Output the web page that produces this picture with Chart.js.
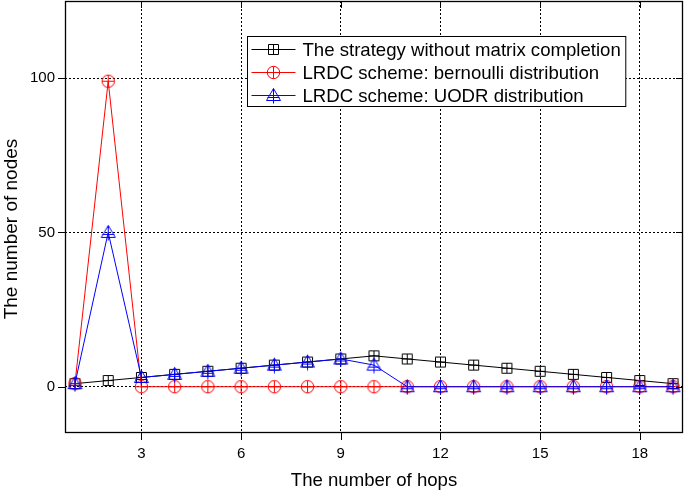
<!DOCTYPE html>
<html lang="en">
<head>
<meta charset="UTF-8">
<title>The number of nodes vs. the number of hops</title>
<script src="https://cdn.jsdelivr.net/npm/chart.js"></script>
<style>
    body {
        margin: 0;
        background: #fff;
    }

    #wrap {
        width: 685px;
        height: 493px;
    }
</style>
</head>
<body>
<div id="wrap"><canvas id="hopsChart"></canvas></div>
<script>
    const hops = [1, 2, 3, 4, 5, 6, 7, 8, 9, 10, 11, 12, 13, 14, 15, 16, 17, 18, 19];
    const withoutCompletion = [1, 2, 3, 4, 5, 6, 7, 8, 9, 10, 9, 8, 7, 6, 5, 4, 3, 2, 1];
    const bernoulli = [1, 99, 0, 0, 0, 0, 0, 0, 0, 0, 0, 0, 0, 0, 0, 0, 0, 0, 0];
    const uodr = [1, 50, 3, 4, 5, 6, 7, 8, 9, 7, 0, 0, 0, 0, 0, 0, 0, 0, 0];
    const seriesNames = [
        'The strategy without matrix completion',
        'LRDC scheme: bernoulli distribution',
        'LRDC scheme: UODR distribution'
    ];
    const xTicks = [3, 6, 9, 12, 15, 18];
    const yTicks = [0, 50, 100];
    const yTitle = 'The number of nodes';

    const FONT = '"Liberation Sans", Arial, sans-serif';

    // matlab-like markers: boxed plus, circled plus, triangle with plus
    function marker(shape, color) {
        const c = document.createElement('canvas');
        c.width = 17;
        c.height = 17;
        const g = c.getContext('2d');
        g.strokeStyle = color;
        g.lineWidth = 1;
        g.beginPath();
        if (shape === 'square') {
            g.rect(3.5, 3.5, 10, 10);
            g.moveTo(8.5, 3.5); g.lineTo(8.5, 13.5);
            g.moveTo(3.5, 8.5); g.lineTo(13.5, 8.5);
        } else if (shape === 'circle') {
            g.arc(8.5, 8.5, 6.2, 0, Math.PI * 2);
            g.moveTo(8.5, 2.5); g.lineTo(8.5, 14.5);
            g.moveTo(2.5, 8.5); g.lineTo(14.5, 8.5);
        } else {
            g.moveTo(8.5, 1.5); g.lineTo(15.5, 13.5); g.lineTo(1.5, 13.5); g.closePath();
            g.moveTo(8.5, 1.5); g.lineTo(8.5, 16.5);
            g.moveTo(2.5, 10.5); g.lineTo(14.5, 10.5);
        }
        g.stroke();
        return c;
    }

    const markers = [marker('square', '#000'), marker('circle', '#ff0000'), marker('triangle', '#0000ff')];
    const colors = ['#000000', '#ff0000', '#0000ff'];
    const series = [withoutCompletion, bernoulli, uodr];

    const framePlugin = {
        id: 'frame',
        afterDraw(chart) {
            const ctx = chart.ctx;
            const a = chart.chartArea;
            const xs = chart.scales.x, ys = chart.scales.y;
            ctx.save();
            ctx.strokeStyle = '#000';
            ctx.lineWidth = 1.3;
            ctx.strokeRect(Math.round(a.left) + 0.5, Math.round(a.top) + 0.5,
                Math.round(a.right - a.left) - 1, Math.round(a.bottom - a.top) - 1);
            // ticks: out on left/bottom, in on top/right
            ctx.lineWidth = 1;
            ctx.beginPath();
            xTicks.forEach(v => {
                const px = Math.round(xs.getPixelForValue(v)) + 0.5;
                ctx.moveTo(px, a.bottom); ctx.lineTo(px, a.bottom + 7);
                ctx.moveTo(px, a.top); ctx.lineTo(px, a.top + 7);
            });
            yTicks.forEach(v => {
                const py = Math.round(ys.getPixelForValue(v)) + 0.5;
                ctx.moveTo(a.left, py); ctx.lineTo(a.left - 7, py);
                ctx.moveTo(a.right, py); ctx.lineTo(a.right - 7, py);
            });
            ctx.stroke();

            // y axis title
            ctx.fillStyle = '#000';
            ctx.font = '19px ' + FONT;
            ctx.textAlign = 'center';
            ctx.textBaseline = 'middle';
            ctx.translate(12, 229);
            ctx.rotate(-Math.PI / 2);
            ctx.fillText(yTitle, 0, 0);
            ctx.setTransform(1, 0, 0, 1, 0, 0);

            // legend box
            ctx.textAlign = 'left';
            ctx.font = '18.6px ' + FONT;
            const textW = Math.max(...seriesNames.map(s => ctx.measureText(s).width));
            const bx = 247.5, by = 36.5, rowH = 23.3;
            const bw = 55 + textW + 5, bh = 70;
            ctx.fillStyle = '#fff';
            ctx.fillRect(bx, by, bw, bh);
            ctx.strokeStyle = '#000';
            ctx.strokeRect(bx, by, bw, bh);
            seriesNames.forEach((name, i) => {
                const cy = Math.round(by + 12 + i * rowH) + 0.5;
                ctx.strokeStyle = colors[i];
                ctx.beginPath();
                ctx.moveTo(bx + 4, cy); ctx.lineTo(bx + 48, cy);
                ctx.stroke();
                ctx.drawImage(markers[i], bx + 26 - 8.5, cy - 8.5);
                ctx.fillStyle = '#000';
                ctx.fillText(name, bx + 55, cy + 1);
            });
            ctx.restore();
        }
    };

    const ctx = document.getElementById('hopsChart').getContext('2d');
    new Chart(ctx, {
        type: 'line',
        data: {
            datasets: series.map((vals, i) => ({
                label: seriesNames[i],
                data: hops.map((h, j) => ({ x: h, y: vals[j] })),
                borderColor: colors[i],
                borderWidth: 1,
                backgroundColor: 'transparent',
                pointStyle: markers[i],
                pointRadius: 6,
                tension: 0,
                order: 3 - i
            }))
        },
        options: {
            responsive: true,
            maintainAspectRatio: false,
            animation: false,
            layout: { autoPadding: false, padding: { top: 1, right: 2, left: 0, bottom: 0 } },
            plugins: {
                legend: { display: false },
                tooltip: { enabled: false }
            },
            scales: {
                x: {
                    type: 'linear',
                    min: 0.7,
                    max: 19.3,
                    afterBuildTicks: s => { s.ticks = xTicks.map(v => ({ value: v })); },
                    afterFit: s => { s.height = 60; s.paddingLeft = 0; s.paddingRight = 0; },
                    grid: { color: '#000', lineWidth: 1, drawTicks: false },
                    border: { display: false, dash: [2, 2] },
                    ticks: {
                        color: '#000',
                        padding: 12,
                        maxRotation: 0,
                        font: { family: FONT, size: 15 }
                    },
                    title: {
                        display: true,
                        text: 'The number of hops',
                        color: '#000',
                        padding: { top: 1, bottom: 1 },
                        font: { family: FONT, size: 18.6 }
                    }
                },
                y: {
                    min: -15,
                    max: 125,
                    afterBuildTicks: s => { s.ticks = yTicks.map(v => ({ value: v })); },
                    afterFit: s => { s.width = 65; s.paddingTop = 0; s.paddingBottom = 0; },
                    grid: { color: '#000', lineWidth: 1, drawTicks: false },
                    border: { display: false, dash: [2, 2] },
                    ticks: {
                        color: '#000',
                        padding: 10,
                        font: { family: FONT, size: 15 }
                    }
                }
            }
        },
        plugins: [framePlugin]
    });
</script>
</body>
</html>
